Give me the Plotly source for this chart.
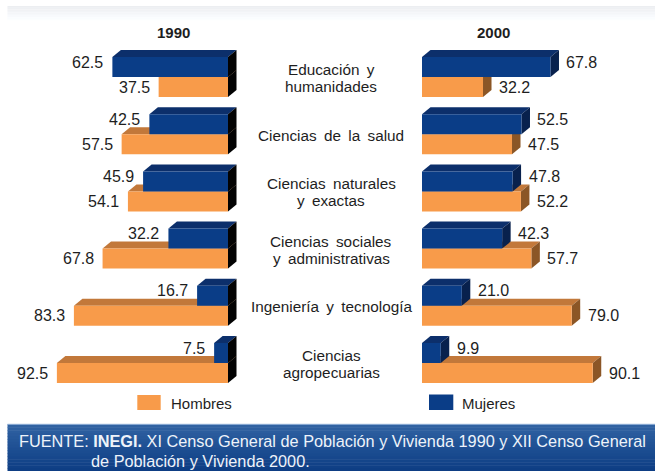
import plotly.graph_objects as go

# ---------------- data ----------------
categories = [
    "Educación y<br>humanidades",
    "Ciencias de la salud",
    "Ciencias naturales<br>y exactas",
    "Ciencias sociales<br>y administrativas",
    "Ingeniería y tecnología",
    "Ciencias<br>agropecuarias",
]
mujeres_1990 = [62.5, 42.5, 45.9, 32.2, 16.7, 7.5]
hombres_1990 = [37.5, 57.5, 54.1, 67.8, 83.3, 92.5]
mujeres_2000 = [67.8, 52.5, 47.8, 42.3, 21.0, 9.9]
hombres_2000 = [32.2, 47.5, 52.2, 57.7, 79.0, 90.1]
years = ["1990", "2000"]
series_names = ["Hombres", "Mujeres"]
source_line1 = "FUENTE: <b>INEGI.</b> XI Censo General de Población y Vivienda 1990 y XII Censo General"
source_line2 = "de Población y Vivienda 2000."

# ---------------- style / layout ----------------
W, H = 655, 471
FONT = "Arial, Liberation Sans, sans-serif"
TXT = "#1e1e1e"

C_BLUE = "#0a3d87"
C_BLUE_TOP = "#0c2f6b"
C_BLUE_SIDE = "#08214d"
C_OR = "#f89b4a"
C_OR_TOP = "#c2783a"
C_OR_SIDE = "#8b5626"
C_SIDE_1990 = "#030303"

ROW0_PX, PITCH_PX, BAR_PX = 77.0, 57.2, 20.0
DX_PX, DY_PX = 8.5, 7.0

Y_RANGE = [5.9, -0.9]
y_top_px = ROW0_PX + Y_RANGE[1] * PITCH_PX
y_bot_px = ROW0_PX + Y_RANGE[0] * PITCH_PX
y_domain = [1 - y_bot_px / H, 1 - y_top_px / H]

Z1, S1 = 228.0, 1.85    # 1990 panel: zero position and px per unit
X1_RANGE = [100, -7]
x1_domain = [(Z1 - X1_RANGE[0] * S1) / W, (Z1 - X1_RANGE[1] * S1) / W]
Z2, S2 = 422.0, 1.895   # 2000 panel
X2_RANGE = [-3, 112]
x2_domain = [(Z2 + X2_RANGE[0] * S2) / W, (Z2 + X2_RANGE[1] * S2) / W]

h = BAR_PX / PITCH_PX
dyu = DY_PX / PITCH_PX
dxu1 = DX_PX / S1
dxu2 = DX_PX / S2

def px(x):
    return x / W

def py(y):
    return 1 - y / H

fig = go.Figure()

n = len(categories)
rows = list(range(n))
y_blue = [r - h / 2 for r in rows]
y_or = [r + h / 2 for r in rows]

# front faces as bars
for xa, hom, muj in (("x", hombres_1990, mujeres_1990), ("x2", hombres_2000, mujeres_2000)):
    fig.add_trace(go.Bar(orientation="h", x=hom, y=y_or, width=h, xaxis=xa, yaxis="y",
                         marker=dict(color=C_OR, line=dict(width=0)), name=series_names[0],
                         showlegend=False, hoverinfo="skip"))
    fig.add_trace(go.Bar(orientation="h", x=muj, y=y_blue, width=h, xaxis=xa, yaxis="y",
                         marker=dict(color=C_BLUE, line=dict(width=0)), name=series_names[1],
                         showlegend=False, hoverinfo="skip"))

shapes = []

def path(pts):
    return "M " + " L ".join(f"{a},{b}" for a, b in pts) + " Z"

def faces(xref, v, yc, dxu, sign, top_col, side_col):
    yT = yc - h / 2
    yB = yc + h / 2
    if sign > 0:
        top = [(0, yT), (v, yT), (v + dxu, yT - dyu), (dxu, yT - dyu)]
        end = v
        e2 = end + dxu
    else:
        top = [(v, yT), (0, yT), (-dxu, yT - dyu), (v - dxu, yT - dyu)]
        end = 0
        e2 = end - dxu
    side = [(end, yT), (e2, yT - dyu), (e2, yB - dyu), (end, yB)]
    out = []
    for pts, col in ((top, top_col), (side, side_col)):
        out.append(dict(type="path", path=path(pts), xref=xref, yref="y",
                        fillcolor=col, line=dict(width=0), layer="below"))
    return out

for i in rows:
    shapes += faces("x", hombres_1990[i], y_or[i], dxu1, -1, C_OR_TOP, C_SIDE_1990)
    shapes += faces("x", mujeres_1990[i], y_blue[i], dxu1, -1, C_BLUE_TOP, C_SIDE_1990)
    shapes += faces("x2", hombres_2000[i], y_or[i], dxu2, +1, C_OR_TOP, C_OR_SIDE)
    shapes += faces("x2", mujeres_2000[i], y_blue[i], dxu2, +1, C_BLUE_TOP, C_BLUE_SIDE)

# top light-grey band
nb = 10
for k in range(nb):
    t = k / (nb - 1)
    g = int(236 + (255 - 236) * t)
    col = f"rgb({g},{min(255, g + 2)},{min(255, g + 5)})"
    y0 = 6 + k * 1.6
    shapes.append(dict(type="rect", xref="paper", yref="paper", x0=px(7.5), x1=1,
                       y0=py(y0 + 1.7), y1=py(y0), fillcolor=col, line=dict(width=0), layer="below"))

# footer gradient band
F_TOP = 424.3
nf = 16
for k in range(nf):
    t = k / (nf - 1)
    r = int(48 + (14 - 48) * t)
    g = int(98 + (62 - 98) * t)
    b = int(162 + (132 - 162) * t)
    y0 = F_TOP + k * (H - F_TOP) / nf
    shapes.append(dict(type="rect", xref="paper", yref="paper", x0=px(7.5), x1=1,
                       y0=py(y0 + (H - F_TOP) / nf + 0.5), y1=py(y0),
                       fillcolor=f"rgb({r},{g},{b})", line=dict(width=0)))
shapes.append(dict(type="line", xref="paper", yref="paper", x0=px(7.5), x1=1,
                   y0=py(F_TOP), y1=py(F_TOP), line=dict(color="#8fb0d8", width=1)))

# legend marks
shapes.append(dict(type="rect", xref="paper", yref="paper", x0=px(137.3), x1=px(160.7),
                   y0=py(410), y1=py(395), fillcolor=C_OR, line=dict(width=0)))
shapes.append(dict(type="rect", xref="paper", yref="paper", x0=px(429), x1=px(453.3),
                   y0=py(410), y1=py(394.5), fillcolor=C_BLUE, line=dict(width=0)))

ann = []
VF = dict(size=16, family=FONT, color=TXT)
# value labels
for i in rows:
    ann.append(dict(x=mujeres_1990[i], y=y_blue[i], xref="x", yref="y", text=f"{mujeres_1990[i]:.1f}",
                    xanchor="right", yanchor="middle", xshift=-7, yshift=5, showarrow=False, font=VF))
    ann.append(dict(x=hombres_1990[i], y=y_or[i], xref="x", yref="y", text=f"{hombres_1990[i]:.1f}",
                    xanchor="right", yanchor="middle", xshift=-7, showarrow=False, font=VF))
    ann.append(dict(x=mujeres_2000[i], y=y_blue[i], xref="x2", yref="y", text=f"{mujeres_2000[i]:.1f}",
                    xanchor="left", yanchor="middle", xshift=14, yshift=5, showarrow=False, font=VF))
    ann.append(dict(x=hombres_2000[i], y=y_or[i], xref="x2", yref="y", text=f"{hombres_2000[i]:.1f}",
                    xanchor="left", yanchor="middle", xshift=14, showarrow=False, font=VF))

# category labels (centre column)
CF = dict(size=15.3, family=FONT, color=TXT)
for i, cat in enumerate(categories):
    lines = cat.split("<br>")
    m = len(lines)
    for j, ln in enumerate(lines):
        ann.append(dict(x=px(331), y=i, xref="paper", yref="y", text=ln.replace(" ", " \u2009"),
                        xanchor="center", yanchor="middle", yshift=((m - 1) / 2 - j) * 17 - 1,
                        showarrow=False, font=CF))

# year titles
for yr, xc in zip(years, (173.5, 493.3)):
    ann.append(dict(x=px(xc), y=py(33), xref="paper", yref="paper", text=f"<b>{yr}</b>",
                    xanchor="center", yanchor="middle", showarrow=False))

# legend texts
ann.append(dict(x=px(169), y=py(403.5), xref="paper", yref="paper", text=series_names[0],
                xanchor="left", yanchor="middle", showarrow=False))
ann.append(dict(x=px(460), y=py(403.5), xref="paper", yref="paper", text=series_names[1],
                xanchor="left", yanchor="middle", showarrow=False))

# source
SF = dict(color="#eef3fa", size=16.3, family=FONT)
ann.append(dict(x=px(17), y=py(441), xref="paper", yref="paper", text=source_line1,
                xanchor="left", yanchor="middle", showarrow=False, font=SF))
ann.append(dict(x=px(89), y=py(460.5), xref="paper", yref="paper", text=source_line2,
                xanchor="left", yanchor="middle", showarrow=False, font=SF))

ax_common = dict(visible=False, showgrid=False, zeroline=False, fixedrange=True)
fig.update_layout(
    width=W, height=H, margin=dict(l=0, r=0, t=0, b=0),
    paper_bgcolor="white", plot_bgcolor="rgba(0,0,0,0)",
    font=dict(family=FONT, size=15, color=TXT),
    barmode="overlay", showlegend=False,
    xaxis=dict(range=X1_RANGE, domain=x1_domain, anchor="y", **ax_common),
    xaxis2=dict(range=X2_RANGE, domain=x2_domain, anchor="y", **ax_common),
    yaxis=dict(range=Y_RANGE, domain=y_domain, anchor="x", **ax_common),
    shapes=shapes, annotations=ann,
)

fig.write_html("out.html")
